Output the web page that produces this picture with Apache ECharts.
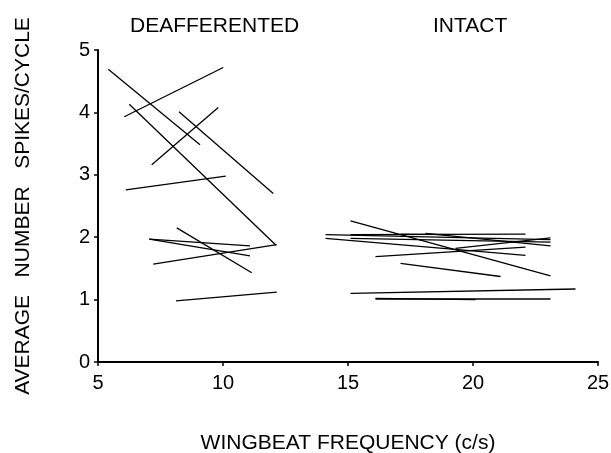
<!DOCTYPE html>
<html>
<head>
<meta charset="utf-8">
<script src="https://cdn.jsdelivr.net/npm/echarts@6/dist/echarts.min.js"></script>
<style>
  html, body { margin: 0; padding: 0; background: #fff; }
  #plot { width: 611px; height: 453px; }
</style>
</head>
<body>
<div id="plot"></div>
<script>
// each segment: [freq1, spikes1, freq2, spikes2]
var deafferented = [
	[5.41, 4.69, 9.08, 3.48],
	[6.25, 4.13, 12.12, 1.87],
	[6.05, 3.93, 10.01, 4.72],
	[7.15, 3.16, 9.81, 4.08],
	[8.24, 4.01, 12.01, 2.70],
	[6.11, 2.76, 10.11, 2.98],
	[7.05, 1.97, 11.08, 1.86],
	[7.05, 1.97, 11.08, 1.70],
	[7.21, 1.57, 12.15, 1.88],
	[8.15, 2.15, 11.15, 1.43],
	[8.12, 0.98, 12.15, 1.12]
];
var intact = [
	[15.1, 2.26, 23.1, 1.38],
	[14.1, 2.04, 23.1, 1.96],
	[14.1, 1.98, 22.1, 1.71],
	[15.1, 2.04, 22.1, 2.05],
	[15.1, 1.98, 23.1, 1.92],
	[17.1, 2.05, 19.1, 2.04],
	[19.3, 1.82, 23.1, 1.99],
	[16.1, 1.69, 22.1, 1.84],
	[17.1, 1.58, 21.1, 1.37],
	[18.1, 2.06, 23.1, 1.86],
	[15.1, 1.10, 24.1, 1.17],
	[16.1, 1.01, 23.1, 1.01],
	[16.1, 1.02, 20.1, 1.00]
];
var groupNames = ['DEAFFERENTED', 'INTACT'];
var xTicks = [5, 10, 15, 20, 25];

var font = '"Liberation Sans", Arial, sans-serif';

function makeSeries (segs, name) {
	var out = [];
	for (var i = 0; i < segs.length; i++) {
		var s = segs[i];
		out.push({
			name: name,
			type: 'line',
			data: [[s[0], s[1]], [s[2], s[3]]],
			showSymbol: false,
			symbol: 'none',
			silent: true,
			lineStyle: { color: '#000', width: 1.3 }
		});
	}
	return out;
}

var series = makeSeries(deafferented, groupNames[0]).concat(makeSeries(intact, groupNames[1]));

var titleStyle = { fontFamily: font, fontSize: 21, fontWeight: 'normal', color: '#000' };

var option = {
	animation: false,
	backgroundColor: '#fff',
	title: [
		{ text: groupNames[0], left: 125, top: 11, textStyle: titleStyle },
		{ text: groupNames[1], left: 428, top: 11, textStyle: titleStyle }
	],
	grid: { left: 98, right: 13, top: 50, bottom: 91, outerBoundsMode: 'none', containLabel: false },
	xAxis: {
		type: 'value',
		min: 5, max: 25, interval: 5,
		name: 'WINGBEAT FREQUENCY (c/s)',
		nameLocation: 'middle',
		nameGap: 71,
		nameTextStyle: { fontFamily: font, fontSize: 21, color: '#000' },
		splitLine: { show: false },
		axisLine: { lineStyle: { color: '#000', width: 2 } },
		axisTick: { length: 4, lineStyle: { color: '#000', width: 1.5 } },
		axisLabel: { fontFamily: font, fontSize: 20, color: '#000', margin: 11,
			formatter: function (v) { return xTicks.indexOf(v) >= 0 ? String(v) : ''; } }
	},
	yAxis: {
		type: 'value',
		min: 0, max: 5, interval: 1,
		name: 'AVERAGE   NUMBER   SPIKES/CYCLE',
		nameLocation: 'middle',
		nameGap: 64,
		nameTextStyle: { fontFamily: font, fontSize: 21, color: '#000' },
		splitLine: { show: false },
		axisLine: { show: true, lineStyle: { color: '#000', width: 2 } },
		axisTick: { show: true, length: 4, lineStyle: { color: '#000', width: 1.5 } },
		axisLabel: { fontFamily: font, fontSize: 20, color: '#000', margin: 8 }
	},
	series: series
};

var myChart = echarts.init(document.getElementById('plot'));
myChart.setOption(option);
</script>
</body>
</html>
